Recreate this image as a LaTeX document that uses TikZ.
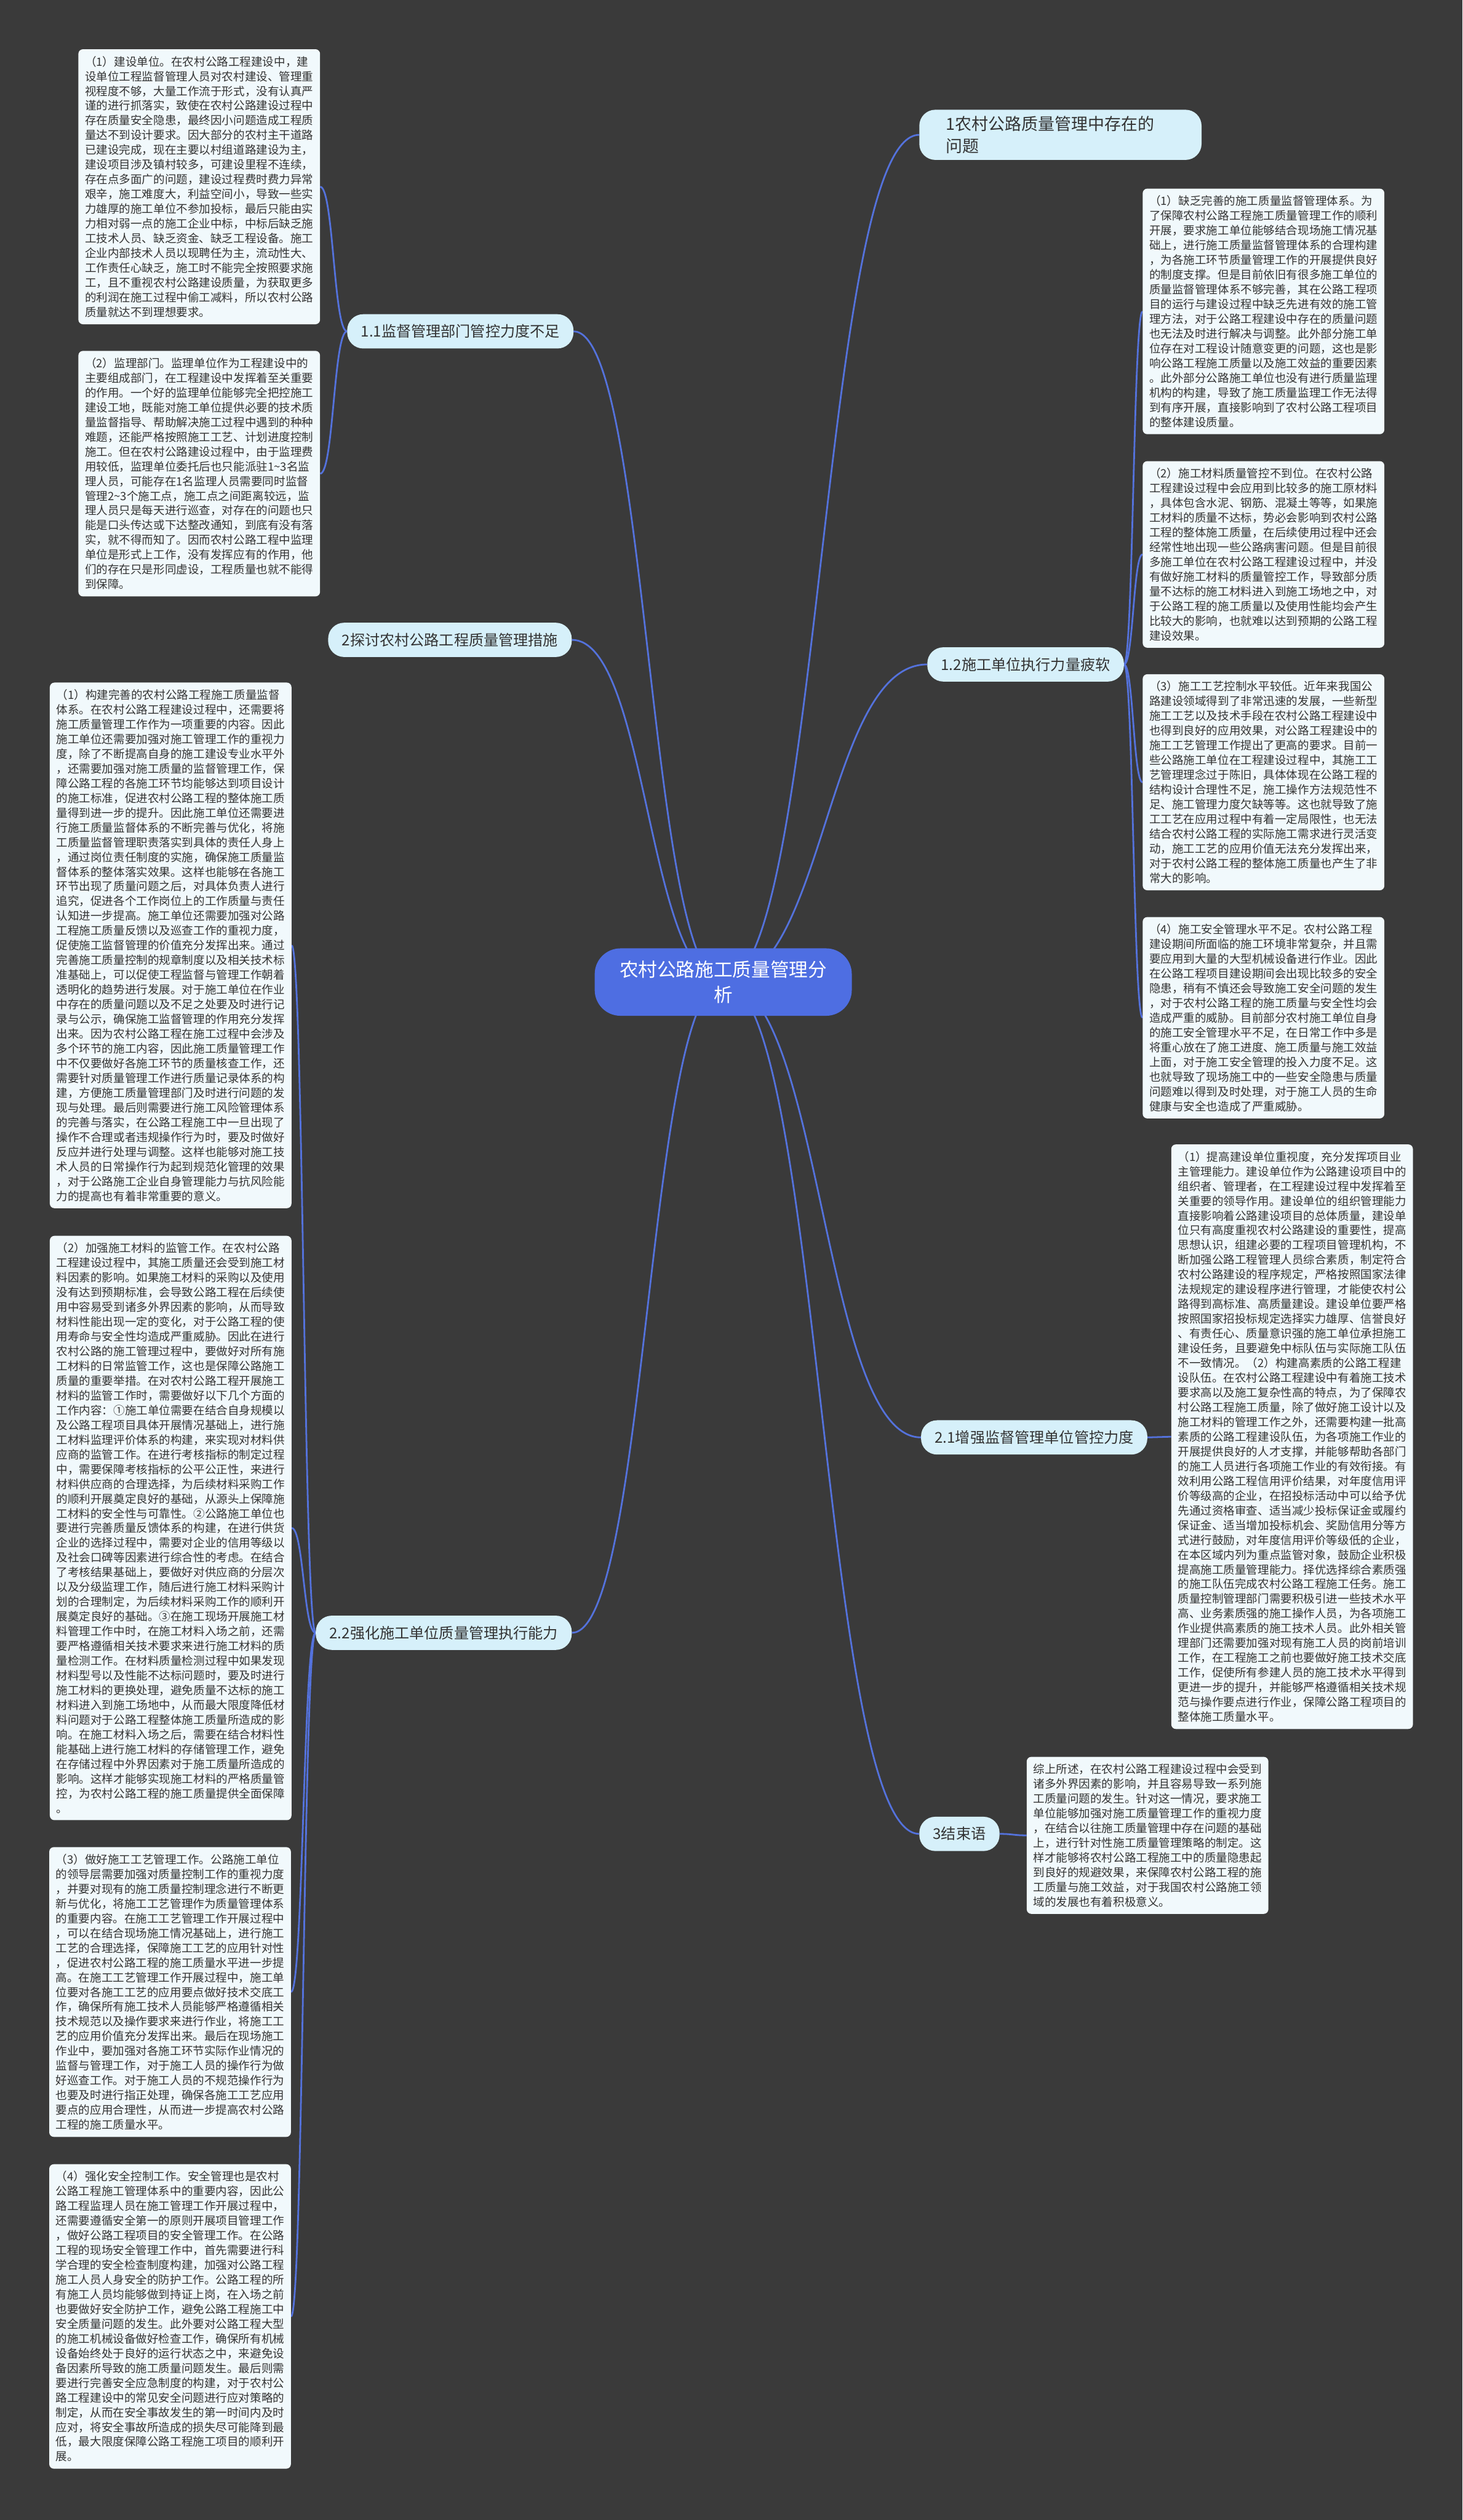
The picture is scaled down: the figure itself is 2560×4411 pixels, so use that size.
\documentclass[tikz,border=0pt]{standalone}
\usepackage{fontspec}
\setmainfont{Noto Sans CJK SC}
\usetikzlibrary{calc,backgrounds}
\definecolor{bgdark}{HTML}{3A3A3A}
\definecolor{rootblue}{HTML}{4E6EE2}
\definecolor{linkblue}{HTML}{5472DC}
\definecolor{topicfill}{HTML}{D6F0FA}
\definecolor{notefill}{HTML}{F1F9FC}
\definecolor{inktext}{HTML}{333333}

\begin{document}
\begin{tikzpicture}[x=1pt,y=-1pt,
  rootbox/.style={fill=rootblue, rounded corners=45pt, text=white, align=center,
    minimum width=450pt, minimum height=118pt, font=\fontsize{33}{45}\selectfont},
  topic/.style={fill=topicfill, rounded corners=28pt, text=inktext, align=left,
    inner xsep=24pt, inner ysep=14pt, minimum height=60pt, font=\fontsize{26}{34}\selectfont},
  note/.style={fill=notefill, rounded corners=8pt, text=inktext, align=left,
    text width=400pt, inner xsep=11.5pt, inner ysep=12pt, font=\fontsize{20}{25.8}\selectfont},
  link/.style={draw=linkblue, line width=3pt}
]
\begin{scope}[on background layer]
\fill[bgdark] (0,0) rectangle (2560,4411);
\end{scope}
\useasboundingbox (0,0) rectangle (2560,4411);

% 中心主题
\node[rootbox] (root) at (1266,1719) {农村公路施工质量管理分\\析};

% 分支
\node[topic, anchor=west, text width=400pt, inner xsep=47pt, inner ysep=11pt,
  font=\fontsize{29}{39}\selectfont] (t1) at (1609,236) {1农村公路质量管理中存在的\\问题};
\node[topic, anchor=east] (t11) at (1004,580) {1.1监督管理部门管控力度不足};
\node[topic, anchor=east] (t2) at (1001,1120) {2探讨农村公路工程质量管理措施};
\node[topic, anchor=west] (t12) at (1623,1163) {1.2施工单位执行力量疲软};
\node[topic, anchor=west] (t21) at (1612,2516) {2.1增强监督管理单位管控力度};
\node[topic, anchor=east] (t22) at (1001,2858) {2.2强化施工单位质量管理执行能力};
\node[topic, anchor=west] (t3) at (1609,3210) {3结束语};

% 1.1 的内容
\node[note, anchor=north west] (n11a) at (137,86) {（1）建设单位。在农村公路工程建设中，建\\
设单位工程监督管理人员对农村建设、管理重\\
视程度不够，大量工作流于形式，没有认真严\\
谨的进行抓落实，致使在农村公路建设过程中\\
存在质量安全隐患，最终因小问题造成工程质\\
量达不到设计要求。因大部分的农村主干道路\\
已建设完成，现在主要以村组道路建设为主，\\
建设项目涉及镇村较多，可建设里程不连续，\\
存在点多面广的问题，建设过程费时费力异常\\
艰辛，施工难度大，利益空间小，导致一些实\\
力雄厚的施工单位不参加投标，最后只能由实\\
力相对弱一点的施工企业中标，中标后缺乏施\\
工技术人员、缺乏资金、缺乏工程设备。施工\\
企业内部技术人员以现聘任为主，流动性大、\\
工作责任心缺乏，施工时不能完全按照要求施\\
工，且不重视农村公路建设质量，为获取更多\\
的利润在施工过程中偷工减料，所以农村公路\\
质量就达不到理想要求。};
\node[note, anchor=north west] (n11b) at (137,614) {（2）监理部门。监理单位作为工程建设中的\\
主要组成部门，在工程建设中发挥着至关重要\\
的作用。一个好的监理单位能够完全把控施工\\
建设工地，既能对施工单位提供必要的技术质\\
量监督指导、帮助解决施工过程中遇到的种种\\
难题，还能严格按照施工工艺、计划进度控制\\
施工。但在农村公路建设过程中，由于监理费\\
用较低，监理单位委托后也只能派驻1\textasciitilde3名监\\
理人员，可能存在1名监理人员需要同时监督\\
管理2\textasciitilde3个施工点，施工点之间距离较远，监\\
理人员只是每天进行巡查，对存在的问题也只\\
能是口头传达或下达整改通知，到底有没有落\\
实，就不得而知了。因而农村公路工程中监理\\
单位是形式上工作，没有发挥应有的作用，他\\
们的存在只是形同虚设，工程质量也就不能得\\
到保障。};

% 1.2 的内容
\node[note, anchor=north west] (n12a) at (2000,330) {（1）缺乏完善的施工质量监督管理体系。为\\
了保障农村公路工程施工质量管理工作的顺利\\
开展，要求施工单位能够结合现场施工情况基\\
础上，进行施工质量监督管理体系的合理构建\\
，为各施工环节质量管理工作的开展提供良好\\
的制度支撑。但是目前依旧有很多施工单位的\\
质量监督管理体系不够完善，其在公路工程项\\
目的运行与建设过程中缺乏先进有效的施工管\\
理方法，对于公路工程建设中存在的质量问题\\
也无法及时进行解决与调整。此外部分施工单\\
位存在对工程设计随意变更的问题，这也是影\\
响公路工程施工质量以及施工效益的重要因素\\
。此外部分公路施工单位也没有进行质量监理\\
机构的构建，导致了施工质量监理工作无法得\\
到有序开展，直接影响到了农村公路工程项目\\
的整体建设质量。};
\node[note, anchor=north west] (n12b) at (2000,807) {（2）施工材料质量管控不到位。在农村公路\\
工程建设过程中会应用到比较多的施工原材料\\
，具体包含水泥、钢筋、混凝土等等，如果施\\
工材料的质量不达标，势必会影响到农村公路\\
工程的整体施工质量，在后续使用过程中还会\\
经常性地出现一些公路病害问题。但是目前很\\
多施工单位在农村公路工程建设过程中，并没\\
有做好施工材料的质量管控工作，导致部分质\\
量不达标的施工材料进入到施工场地之中，对\\
于公路工程的施工质量以及使用性能均会产生\\
比较大的影响，也就难以达到预期的公路工程\\
建设效果。};
\node[note, anchor=north west] (n12c) at (2000,1180) {（3）施工工艺控制水平较低。近年来我国公\\
路建设领域得到了非常迅速的发展，一些新型\\
施工工艺以及技术手段在农村公路工程建设中\\
也得到良好的应用效果，对公路工程建设中的\\
施工工艺管理工作提出了更高的要求。目前一\\
些公路施工单位在工程建设过程中，其施工工\\
艺管理理念过于陈旧，具体体现在公路工程的\\
结构设计合理性不足，施工操作方法规范性不\\
足、施工管理力度欠缺等等。这也就导致了施\\
工工艺在应用过程中有着一定局限性，也无法\\
结合农村公路工程的实际施工需求进行灵活变\\
动，施工工艺的应用价值无法充分发挥出来，\\
对于农村公路工程的整体施工质量也产生了非\\
常大的影响。};
\node[note, anchor=north west] (n12d) at (2000,1605) {（4）施工安全管理水平不足。农村公路工程\\
建设期间所面临的施工环境非常复杂，并且需\\
要应用到大量的大型机械设备进行作业。因此\\
在公路工程项目建设期间会出现比较多的安全\\
隐患，稍有不慎还会导致施工安全问题的发生\\
，对于农村公路工程的施工质量与安全性均会\\
造成严重的威胁。目前部分农村施工单位自身\\
的施工安全管理水平不足，在日常工作中多是\\
将重心放在了施工进度、施工质量与施工效益\\
上面，对于施工安全管理的投入力度不足。这\\
也就导致了现场施工中的一些安全隐患与质量\\
问题难以得到及时处理，对于施工人员的生命\\
健康与安全也造成了严重威胁。};

% 2.1 的内容
\node[note, anchor=north west] (n21) at (2050,2003) {（1）提高建设单位重视度，充分发挥项目业\\
主管理能力。建设单位作为公路建设项目中的\\
组织者、管理者，在工程建设过程中发挥着至\\
关重要的领导作用。建设单位的组织管理能力\\
直接影响着公路建设项目的总体质量，建设单\\
位只有高度重视农村公路建设的重要性，提高\\
思想认识，组建必要的工程项目管理机构，不\\
断加强公路工程管理人员综合素质，制定符合\\
农村公路建设的程序规定，严格按照国家法律\\
法规规定的建设程序进行管理，才能使农村公\\
路得到高标准、高质量建设。建设单位要严格\\
按照国家招投标规定选择实力雄厚、信誉良好\\
、有责任心、质量意识强的施工单位承担施工\\
建设任务，且要避免中标队伍与实际施工队伍\\
不一致情况。（2）构建高素质的公路工程建\\
设队伍。在农村公路工程建设中有着施工技术\\
要求高以及施工复杂性高的特点，为了保障农\\
村公路工程施工质量，除了做好施工设计以及\\
施工材料的管理工作之外，还需要构建一批高\\
素质的公路工程建设队伍，为各项施工作业的\\
开展提供良好的人才支撑，并能够帮助各部门\\
的施工人员进行各项施工作业的有效衔接。有\\
效利用公路工程信用评价结果，对年度信用评\\
价等级高的企业，在招投标活动中可以给予优\\
先通过资格审查、适当减少投标保证金或履约\\
保证金、适当增加投标机会、奖励信用分等方\\
式进行鼓励，对年度信用评价等级低的企业，\\
在本区域内列为重点监管对象，鼓励企业积极\\
提高施工质量管理能力。择优选择综合素质强\\
的施工队伍完成农村公路工程施工任务。施工\\
质量控制管理部门需要积极引进一些技术水平\\
高、业务素质强的施工操作人员，为各项施工\\
作业提供高素质的施工技术人员。此外相关管\\
理部门还需要加强对现有施工人员的岗前培训\\
工作，在工程施工之前也要做好施工技术交底\\
工作，促使所有参建人员的施工技术水平得到\\
更进一步的提升，并能够严格遵循相关技术规\\
范与操作要点进行作业，保障公路工程项目的\\
整体施工质量水平。};

% 3 的内容
\node[note, anchor=north west] (n3) at (1797,3075) {综上所述，在农村公路工程建设过程中会受到\\
诸多外界因素的影响，并且容易导致一系列施\\
工质量问题的发生。针对这一情况，要求施工\\
单位能够加强对施工质量管理工作的重视力度\\
，在结合以往施工质量管理中存在问题的基础\\
上，进行针对性施工质量管理策略的制定。这\\
样才能够将农村公路工程施工中的质量隐患起\\
到良好的规避效果，来保障农村公路工程的施\\
工质量与施工效益，对于我国农村公路施工领\\
域的发展也有着积极意义。};

% 2.2 的内容
\node[note, anchor=south west] (n22a) at (87,2115) {（1）构建完善的农村公路工程施工质量监督\\
体系。在农村公路工程建设过程中，还需要将\\
施工质量管理工作作为一项重要的内容。因此\\
施工单位还需要加强对施工管理工作的重视力\\
度，除了不断提高自身的施工建设专业水平外\\
，还需要加强对施工质量的监督管理工作，保\\
障公路工程的各施工环节均能够达到项目设计\\
的施工标准，促进农村公路工程的整体施工质\\
量得到进一步的提升。因此施工单位还需要进\\
行施工质量监督体系的不断完善与优化，将施\\
工质量监督管理职责落实到具体的责任人身上\\
，通过岗位责任制度的实施，确保施工质量监\\
督体系的整体落实效果。这样也能够在各施工\\
环节出现了质量问题之后，对具体负责人进行\\
追究，促进各个工作岗位上的工作质量与责任\\
认知进一步提高。施工单位还需要加强对公路\\
工程施工质量反馈以及巡查工作的重视力度，\\
促使施工监督管理的价值充分发挥出来。通过\\
完善施工质量控制的规章制度以及相关技术标\\
准基础上，可以促使工程监督与管理工作朝着\\
透明化的趋势进行发展。对于施工单位在作业\\
中存在的质量问题以及不足之处要及时进行记\\
录与公示，确保施工监督管理的作用充分发挥\\
出来。因为农村公路工程在施工过程中会涉及\\
多个环节的施工内容，因此施工质量管理工作\\
中不仅要做好各施工环节的质量核查工作，还\\
需要针对质量管理工作进行质量记录体系的构\\
建，方便施工质量管理部门及时进行问题的发\\
现与处理。最后则需要进行施工风险管理体系\\
的完善与落实，在公路工程施工中一旦出现了\\
操作不合理或者违规操作行为时，要及时做好\\
反应并进行处理与调整。这样也能够对施工技\\
术人员的日常操作行为起到规范化管理的效果\\
，对于公路施工企业自身管理能力与抗风险能\\
力的提高也有着非常重要的意义。};
\node[note, anchor=north west] (n22b) at (87,2163) {（2）加强施工材料的监管工作。在农村公路\\
工程建设过程中，其施工质量还会受到施工材\\
料因素的影响。如果施工材料的采购以及使用\\
没有达到预期标准，会导致公路工程在后续使\\
用中容易受到诸多外界因素的影响，从而导致\\
材料性能出现一定的变化，对于公路工程的使\\
用寿命与安全性均造成严重威胁。因此在进行\\
农村公路的施工管理过程中，要做好对所有施\\
工材料的日常监管工作，这也是保障公路施工\\
质量的重要举措。在对农村公路工程开展施工\\
材料的监管工作时，需要做好以下几个方面的\\
工作内容：①施工单位需要在结合自身规模以\\
及公路工程项目具体开展情况基础上，进行施\\
工材料监理评价体系的构建，来实现对材料供\\
应商的监管工作。在进行考核指标的制定过程\\
中，需要保障考核指标的公平公正性，来进行\\
材料供应商的合理选择，为后续材料采购工作\\
的顺利开展奠定良好的基础，从源头上保障施\\
工材料的安全性与可靠性。②公路施工单位也\\
要进行完善质量反馈体系的构建，在进行供货\\
企业的选择过程中，需要对企业的信用等级以\\
及社会口碑等因素进行综合性的考虑。在结合\\
了考核结果基础上，要做好对供应商的分层次\\
以及分级监理工作，随后进行施工材料采购计\\
划的合理制定，为后续材料采购工作的顺利开\\
展奠定良好的基础。③在施工现场开展施工材\\
料管理工作中时，在施工材料入场之前，还需\\
要严格遵循相关技术要求来进行施工材料的质\\
量检测工作。在材料质量检测过程中如果发现\\
材料型号以及性能不达标问题时，要及时进行\\
施工材料的更换处理，避免质量不达标的施工\\
材料进入到施工场地中，从而最大限度降低材\\
料问题对于公路工程整体施工质量所造成的影\\
响。在施工材料入场之后，需要在结合材料性\\
能基础上进行施工材料的存储管理工作，避免\\
在存储过程中外界因素对于施工质量所造成的\\
影响。这样才能够实现施工材料的严格质量管\\
控，为农村公路工程的施工质量提供全面保障\\
。};
\node[note, anchor=north west] (n22c) at (86,3233) {（3）做好施工工艺管理工作。公路施工单位\\
的领导层需要加强对质量控制工作的重视力度\\
，并要对现有的施工质量控制理念进行不断更\\
新与优化，将施工工艺管理作为质量管理体系\\
的重要内容。在施工工艺管理工作开展过程中\\
，可以在结合现场施工情况基础上，进行施工\\
工艺的合理选择，保障施工工艺的应用针对性\\
，促进农村公路工程的施工质量水平进一步提\\
高。在施工工艺管理工作开展过程中，施工单\\
位要对各施工工艺的应用要点做好技术交底工\\
作，确保所有施工技术人员能够严格遵循相关\\
技术规范以及操作要求来进行作业，将施工工\\
艺的应用价值充分发挥出来。最后在现场施工\\
作业中，要加强对各施工环节实际作业情况的\\
监督与管理工作，对于施工人员的操作行为做\\
好巡查工作。对于施工人员的不规范操作行为\\
也要及时进行指正处理，确保各施工工艺应用\\
要点的应用合理性，从而进一步提高农村公路\\
工程的施工质量水平。};
\node[note, anchor=north west] (n22d) at (86,3788) {（4）强化安全控制工作。安全管理也是农村\\
公路工程施工管理体系中的重要内容，因此公\\
路工程监理人员在施工管理工作开展过程中，\\
还需要遵循安全第一的原则开展项目管理工作\\
，做好公路工程项目的安全管理工作。在公路\\
工程的现场安全管理工作中，首先需要进行科\\
学合理的安全检查制度构建，加强对公路工程\\
施工人员人身安全的防护工作。公路工程的所\\
有施工人员均能够做到持证上岗，在入场之前\\
也要做好安全防护工作，避免公路工程施工中\\
安全质量问题的发生。此外要对公路工程大型\\
的施工机械设备做好检查工作，确保所有机械\\
设备始终处于良好的运行状态之中，来避免设\\
备因素所导致的施工质量问题发生。最后则需\\
要进行完善安全应急制度的构建，对于农村公\\
路工程建设中的常见安全问题进行应对策略的\\
制定，从而在安全事故发生的第一时间内及时\\
应对，将安全事故所造成的损失尽可能降到最\\
低，最大限度保障公路工程施工项目的顺利开\\
展。};

% 连线
\begin{scope}[on background layer]
\foreach \b in {t1.west,t11.east,t2.east,t12.west,t21.west,t22.east,t3.west}
  \draw[link] let \p1=(root.center), \p2=(\b) in
    (\p1) .. controls ({(\x1+\x2)/2},\y1) and ({(\x1+\x2)/2},\y2) .. (\p2);
\foreach \a/\b in {t11.west/n11a.east, t11.west/n11b.east,
    t12.east/n12a.west, t12.east/n12b.west, t12.east/n12c.west, t12.east/n12d.west,
    t21.east/n21.west, t3.east/n3.west,
    t22.west/n22a.east, t22.west/n22b.east, t22.west/n22c.east, t22.west/n22d.east}
  \draw[link] let \p1=(\a), \p2=(\b) in
    (\p1) .. controls ({(\x1+\x2)/2},\y1) and ({(\x1+\x2)/2},\y2) .. (\p2);
\end{scope}
\end{tikzpicture}
\end{document}
